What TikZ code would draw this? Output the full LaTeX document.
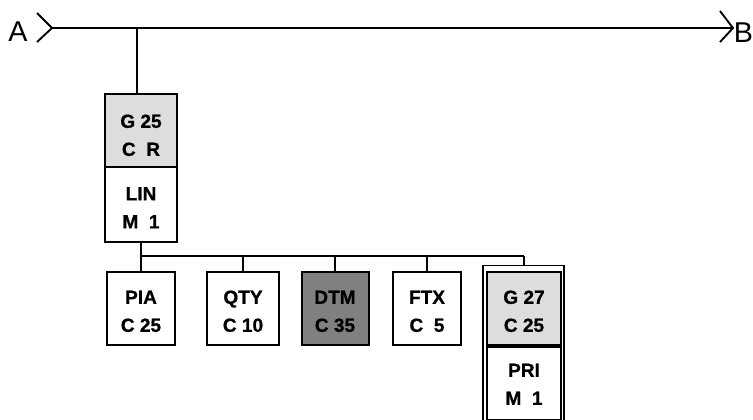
\documentclass[tikz,border=0pt]{standalone}
\usepackage{fontspec}
\setmainfont{Liberation Sans}[BoldFont={Liberation Sans Bold}]
\newfontfamily\boxfont{Liberation Sans Bold}[FakeBold=0.8]
\usetikzlibrary{calc}
\definecolor{lgray}{HTML}{DDDDDD}
\definecolor{dgray}{HTML}{808080}
\begin{document}
\begin{tikzpicture}[x=0.75pt,y=-0.75pt,
  box/.style={draw,line width=1.5pt,inner sep=0pt,minimum height=54.75pt},
  lbl/.style={inner sep=0pt,font=\boxfont\fontsize{14.3pt}{17pt}\selectfont,text height=10.25pt,text depth=0pt},
  endtxt/.style={inner sep=0pt,font=\fontsize{21.5pt}{25pt}\selectfont},
  wire/.style={line width=1.1pt},
  chev/.style={line width=1.4pt}]
\clip (0,0) rectangle (753,419);
% end points
\coordinate (a) at (52,28);
\coordinate (b) at (733,28);
\node[endtxt] (ta) at (18,31.5) {A};
\node[endtxt] (tb) at (743.5,33) {B};
\draw[chev] ($(a)+(-15,-15)$) -- (a) -- ($(a)+(-15,14)$);
\draw[chev] ($(b)+(-13,-17)$) -- (b) -- ($(b)+(-13,14)$);
\draw[wire] (a) -- (b);
% top stack
\node[box,fill=lgray,minimum width=54pt,minimum height=54.75pt] (g25) at (141,130.5) {};
\node[box,fill=white,minimum width=54pt,minimum height=56.25pt] (lin) at (141,204.5) {};
\node[lbl] at (141,121) {G 25};
\node[lbl] at (141,149) {C\ \ R};
\node[lbl] at (141,193.5) {LIN};
\node[lbl] at (141,221.5) {M\ \ 1};
\coordinate (j1) at (137,28);
\draw[wire] (j1) -- (j1 |- g25.north);
% bus
\coordinate (bl) at (141,256);
\coordinate (br) at (524,256);
\draw[wire] (lin.south) -- (bl);
\draw[wire] (bl) -- (br);
% row boxes
\node[box,fill=white,minimum width=51pt] (pia) at (141,308.5) {};
\node[box,fill=white,minimum width=54pt] (qty) at (243,308.5) {};
\node[box,fill=dgray,minimum width=50.25pt] (dtm) at (335,308.5) {};
\node[box,fill=white,minimum width=51pt] (ftx) at (427,308.5) {};
\node[lbl] at (141,297) {PIA};
\node[lbl] at (141,325) {C 25};
\node[lbl] at (243,297) {QTY};
\node[lbl] at (243,325) {C 10};
\node[lbl] at (335,297) {DTM};
\node[lbl] at (335,325) {C 35};
\node[lbl] at (427,297) {FTX};
\node[lbl] at (427,325) {C\ \ 5};
\foreach \n in {pia,qty,dtm,ftx}{\draw[wire] (\n.north |- bl) -- (\n.north);}
% G27 group with double border
\node[draw,line width=1.1pt,inner sep=0pt,minimum width=60.75pt,minimum height=120pt,anchor=north] (grp) at (523.5,265) {};
\node[box,fill=lgray,minimum width=55.5pt,minimum height=54.75pt,anchor=north] (g27) at (524,271) {};
\node[box,fill=white,minimum width=55.5pt,minimum height=54.75pt,anchor=north] (pri) at (g27.south) {};
\node[lbl] at (524,297) {G 27};
\node[lbl] at (524,325) {C 25};
\node[lbl] at (524,370) {PRI};
\node[lbl] at (524,398) {M\ \ 1};
\draw[wire] (br) -- (grp.north -| br);
\end{tikzpicture}
\end{document}
